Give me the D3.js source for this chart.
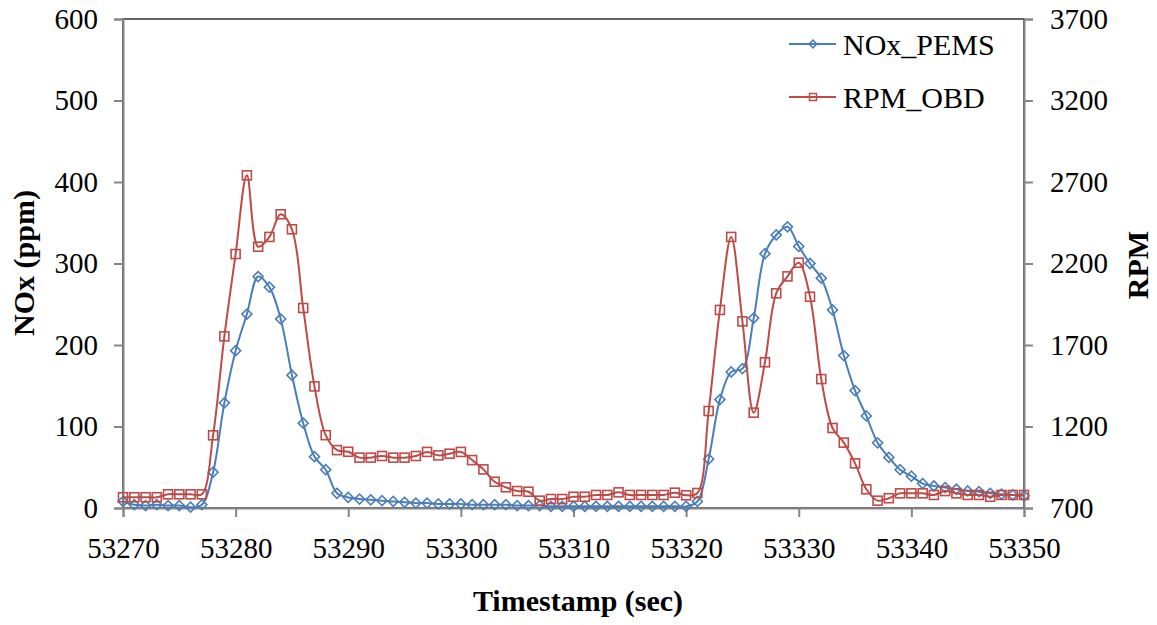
<!DOCTYPE html>
<html>
<head>
<meta charset="utf-8">
<script src="https://cdn.jsdelivr.net/npm/d3@7"></script>
<style>
  html, body { margin: 0; padding: 0; background: #fff; }
  svg text { font-family: "Liberation Serif", "Times New Roman", serif; fill: #000; }
</style>
</head>
<body>
<div id="root"></div>
<script>
const width = 1157;
const height = 625;
const margin = { top: 19, right: 133, bottom: 117, left: 123 };

// seconds 53270 .. 53350
const startTime = 53270;
const noxPems = [8, 4, 3, 4, 3, 3, 1, 4, 44, 129, 193, 238, 284, 271, 232, 163, 104, 63, 47, 18,
  13, 11, 10, 9, 8, 7, 6, 6, 5, 5, 5, 4, 4, 4, 4, 3, 3, 3, 2, 2,
  2, 2, 2, 2, 2, 2, 2, 2, 2, 2, 2, 8, 60, 133, 167, 171, 233, 312, 335, 345,
  321, 300, 282, 243, 187, 144, 113, 80, 62, 47, 39, 30, 27, 25, 23, 21, 20, 18, 17, 16, 15];
const rpmObd = [766, 766, 766, 766, 784, 784, 784, 784, 1146, 1753, 2258, 2741, 2303, 2363, 2502, 2410, 1927, 1446, 1147, 1055,
  1045, 1009, 1009, 1019, 1009, 1009, 1019, 1044, 1023, 1033, 1044, 994, 937, 861, 827, 804, 800, 745, 755, 755,
  769, 769, 780, 780, 796, 780, 780, 780, 780, 794, 778, 792, 1295, 1915, 2363, 1845, 1285, 1594, 2017, 2121,
  2205, 1996, 1491, 1191, 1101, 974, 815, 745, 760, 790, 790, 790, 780, 804, 790, 780, 780, 769, 780, 780, 780];
const xTicks = [53270, 53280, 53290, 53300, 53310, 53320, 53330, 53340, 53350];
const noxTicks = [0, 100, 200, 300, 400, 500, 600];
const rpmTicks = [700, 1200, 1700, 2200, 2700, 3200, 3700];
const seriesNames = ["NOx_PEMS", "RPM_OBD"];

const blue = "#4a7ebb";
const red = "#be4b48";
const axisGrey = "#868686";
const serif = '"Liberation Serif", "Times New Roman", serif';

const svg = d3.select('#root').append('svg')
  .attr('width', width).attr('height', height)
  .style('font-family', serif);

const x = d3.scaleLinear().domain([53270, 53350]).range([margin.left, width - margin.right]);
const yL = d3.scaleLinear().domain([0, 600]).range([height - margin.bottom, margin.top]);
const yR = d3.scaleLinear().domain([700, 3700]).range([height - margin.bottom, margin.top]);

const nox = noxPems.map((v, i) => ({ t: startTime + i, v }));
const rpm = rpmObd.map((v, i) => ({ t: startTime + i, v }));

// plot area border (only top stays visible, axes cover the rest)
svg.append('rect')
  .attr('x', margin.left).attr('y', margin.top)
  .attr('width', x.range()[1] - margin.left).attr('height', yL.range()[0] - margin.top)
  .attr('fill', 'none').attr('stroke', '#000').attr('stroke-width', 1.2);

const styleAxis = g => {
  g.attr('font-family', null).attr('font-size', null);
  g.selectAll('path.domain').attr('stroke', axisGrey).attr('stroke-width', 2);
  g.selectAll('.tick line').attr('stroke', axisGrey).attr('stroke-width', 2);
  g.selectAll('.tick text').style('font-family', serif).style('font-size', '29px').attr('fill', '#000');
};

svg.append('g')
  .attr('transform', `translate(0,${yL.range()[0]})`)
  .call(d3.axisBottom(x).tickValues(xTicks).tickFormat(d3.format('d')).tickSizeOuter(0).tickSize(9).tickPadding(20))
  .call(styleAxis);

svg.append('g')
  .attr('transform', `translate(${margin.left},0)`)
  .call(d3.axisLeft(yL).tickValues(noxTicks).tickFormat(d3.format('d')).tickSizeOuter(0).tickSize(9).tickPadding(16))
  .call(styleAxis);

svg.append('g')
  .attr('transform', `translate(${x.range()[1]},0)`)
  .call(d3.axisRight(yR).tickValues(rpmTicks).tickFormat(d3.format('d')).tickSizeOuter(0).tickSize(9).tickPadding(17))
  .call(styleAxis);

const curve = d3.curveCatmullRom.alpha(0.5);

const noxLine = d3.line().x(d => x(d.t)).y(d => yL(d.v)).curve(curve);
const rpmLine = d3.line().x(d => x(d.t)).y(d => yR(d.v)).curve(curve);

const diamond = d3.symbol().type(d3.symbolSquare).size(50);

// NOx series
svg.append('path').datum(nox)
  .attr('d', noxLine).attr('fill', 'none').attr('stroke', blue).attr('stroke-width', 2);
svg.selectAll('.nox-pt').data(nox).enter().append('path')
  .attr('class', 'nox-pt')
  .attr('d', diamond)
  .attr('transform', d => `translate(${x(d.t)},${yL(d.v)}) rotate(45)`)
  .attr('fill', 'none').attr('stroke', blue).attr('stroke-width', 1.6);

// RPM series
svg.append('path').datum(rpm)
  .attr('d', rpmLine).attr('fill', 'none').attr('stroke', red).attr('stroke-width', 2);
svg.selectAll('.rpm-pt').data(rpm).enter().append('rect')
  .attr('class', 'rpm-pt')
  .attr('x', d => x(d.t) - 4.5).attr('y', d => yR(d.v) - 4.5)
  .attr('width', 9).attr('height', 9)
  .attr('fill', 'none').attr('stroke', red).attr('stroke-width', 1.6);

// legend
const legend = svg.append('g').attr('transform', 'translate(789,44)');
[blue, red].forEach((c, i) => {
  const row = legend.append('g').attr('transform', `translate(0,${i * 53})`);
  row.append('line').attr('x1', 0).attr('x2', 47).attr('y1', 0).attr('y2', 0)
    .attr('stroke', c).attr('stroke-width', 2);
  if (i === 0) {
    row.append('path').attr('d', d3.symbol().type(d3.symbolSquare).size(30)())
      .attr('transform', 'translate(24,0) rotate(45)')
      .attr('fill', 'none').attr('stroke', c).attr('stroke-width', 1.5);
  } else {
    row.append('rect').attr('x', 20.5).attr('y', -3.5).attr('width', 7).attr('height', 7)
      .attr('fill', 'none').attr('stroke', c).attr('stroke-width', 1.5);
  }
  row.append('text').attr('x', 54).attr('y', 11).style('font-size', '30px').text(seriesNames[i]);
});

// axis titles
svg.append('text')
  .attr('x', 578).attr('y', 611)
  .attr('text-anchor', 'middle')
  .style('font-size', '30px').style('font-weight', 'bold')
  .text('Timestamp (sec)');

svg.append('text')
  .attr('transform', 'translate(34,263) rotate(-90)')
  .attr('text-anchor', 'middle')
  .style('font-size', '30px').style('font-weight', 'bold')
  .text('NOx (ppm)');

svg.append('text')
  .attr('transform', 'translate(1148,265) rotate(-90)')
  .attr('text-anchor', 'middle')
  .style('font-size', '30px').style('font-weight', 'bold')
  .text('RPM');
</script>
</body>
</html>
